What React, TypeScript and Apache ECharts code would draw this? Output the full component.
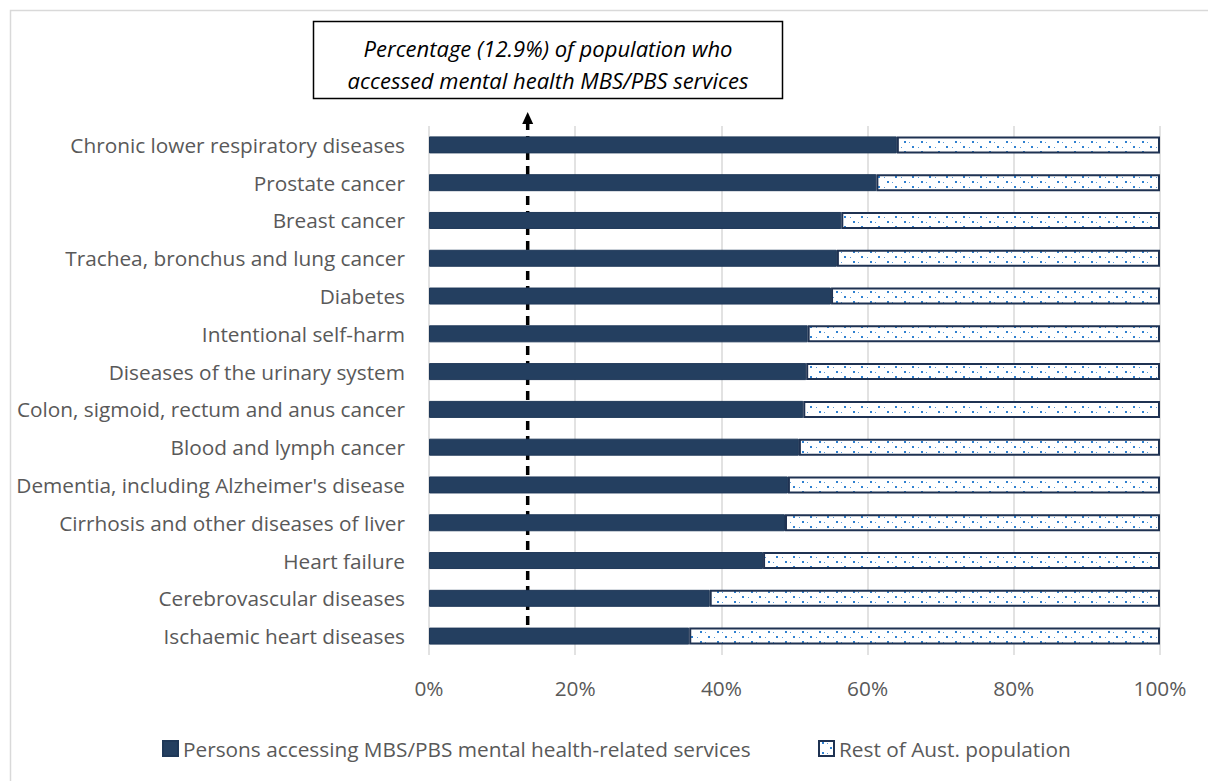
import React, { useEffect, useRef } from "react";
import * as echarts from "echarts";

const categories = [
  "Chronic lower respiratory diseases",
  "Prostate cancer",
  "Breast cancer",
  "Trachea, bronchus and lung cancer",
  "Diabetes",
  "Intentional self-harm",
  "Diseases of the urinary system",
  "Colon, sigmoid, rectum and anus cancer",
  "Blood and lymph cancer",
  "Dementia, including Alzheimer's disease",
  "Cirrhosis and other diseases of liver",
  "Heart failure",
  "Cerebrovascular diseases",
  "Ischaemic heart diseases",
];
const accessing = [64.0, 61.2, 56.4, 55.8, 55.0, 51.8, 51.6, 51.2, 50.6, 49.1, 48.7, 45.7, 38.4, 35.6];
const rest = [36.0, 38.8, 43.6, 44.2, 45.0, 48.2, 48.4, 48.8, 49.4, 50.9, 51.3, 54.3, 61.6, 64.4];
const xTicks = [0, 20, 40, 60, 80, 100];
const referenceLine = 13.5;
const seriesNames = ["Persons accessing MBS/PBS mental health-related services", "Rest of Aust. population"];
const annotationLines = ["Percentage (12.9%) of population who", "accessed mental health MBS/PBS services"];

const FONT = "'Open Sans', sans-serif";
const GRAY = "#595959";
const NAVY = "#243f60";
const FS = 20.8;

function makePattern(): string {
  const c = document.createElement("canvas");
  c.width = 17;
  c.height = 10;
  const ctx = c.getContext("2d")!;
  ctx.fillStyle = "#ffffff";
  ctx.fillRect(0, 0, 17, 10);
  ctx.fillStyle = "#2f80d0";
  ctx.fillRect(3, 1, 2, 2);
  ctx.fillRect(11, 6, 2, 2);
  ctx.fillStyle = "#5a9ad8";
  ctx.fillRect(8, 2, 1, 1);
  ctx.fillRect(0, 7, 1, 1);
  return c.toDataURL();
}

export default function App() {
  const ref = useRef<HTMLDivElement>(null);
  useEffect(() => {
    document.body.style.margin = "0";
    const chart = echarts.init(ref.current!, null, { renderer: "svg" });
    const pattern = makePattern();
    chart.setOption({
      animation: false,
      backgroundColor: "#ffffff",
      grid: { left: 429, right: 48, top: 126, bottom: 126 },
      xAxis: {
        type: "value",
        min: 0,
        max: 100,
        interval: 20,
        axisLine: { show: false },
        axisTick: { show: false },
        splitLine: { lineStyle: { color: "#d9d9d9", width: 1.5 } },
        axisLabel: {
          formatter: (v: number) => (xTicks.includes(v) ? v + "%" : ""),
          color: GRAY,
          fontFamily: FONT,
          fontSize: FS,
          margin: 22,
        },
      },
      yAxis: {
        type: "category",
        inverse: true,
        data: categories,
        axisLine: { show: false },
        axisTick: { show: false },
        axisLabel: { color: GRAY, fontFamily: FONT, fontSize: FS, margin: 24 },
      },
      legend: [
        {
          data: [seriesNames[0]],
          left: 157,
          top: 733,
          icon: "rect",
          itemWidth: 15,
          itemHeight: 15,
          itemGap: 6,
          textStyle: { color: GRAY, fontFamily: FONT, fontSize: FS },
        },
        {
          data: [seriesNames[1]],
          left: 813,
          top: 733,
          icon: "rect",
          itemWidth: 15,
          itemHeight: 15,
          textStyle: { color: GRAY, fontFamily: FONT, fontSize: FS },
        },
      ],
      series: [
        {
          name: seriesNames[0],
          type: "bar",
          stack: "total",
          barWidth: 17,
          data: accessing,
          itemStyle: { color: NAVY, borderColor: "#1f3858", borderWidth: 1 },
        },
        {
          name: seriesNames[1],
          type: "bar",
          stack: "total",
          barWidth: 17,
          data: rest,
          itemStyle: {
            color: { image: pattern, repeat: "repeat" },
            borderColor: "#1f3252",
            borderWidth: 2,
          },
        },
      ],
    });

    const x = chart.convertToPixel({ xAxisIndex: 0 }, referenceLine) as number;
    const yBottom = (chart.convertToPixel({ yAxisIndex: 0 }, categories[categories.length - 1]) as number) + 4;
    const yTop = 122;
    chart.setOption({
      graphic: [
        {
          type: "rect",
          shape: { x: 10.5, y: 10.5, width: 1400, height: 1000 },
          style: { fill: "none", stroke: "#d9d9d9", lineWidth: 1.5 },
          silent: true,
        },
        {
          type: "line",
          shape: { x1: x, y1: yBottom, x2: x, y2: yTop },
          style: { stroke: "#000000", lineWidth: 3.5, lineDash: [9, 6] },
          silent: true,
        },
        {
          type: "polygon",
          shape: { points: [[x - 5.5, yTop + 2], [x, yTop - 10], [x + 5.5, yTop + 2]] },
          style: { fill: "#000000" },
          silent: true,
        },
        {
          type: "rect",
          shape: { x: 313.5, y: 21.5, width: 469, height: 77 },
          style: { fill: "#ffffff", stroke: "#000000", lineWidth: 1.5 },
          silent: true,
        },
        {
          type: "text",
          x: 548,
          y: 48,
          style: {
            text: annotationLines[0],
            fill: "#000000",
            font: "italic 22px " + FONT,
            align: "center",
            verticalAlign: "middle",
          },
          silent: true,
        },
        {
          type: "text",
          x: 548,
          y: 80,
          style: {
            text: annotationLines[1],
            fill: "#000000",
            font: "italic 22px " + FONT,
            align: "center",
            verticalAlign: "middle",
          },
          silent: true,
        },
      ],
    });
    return () => chart.dispose();
  }, []);
  return <div ref={ref} style={{ width: 1208, height: 781 }} />;
}
